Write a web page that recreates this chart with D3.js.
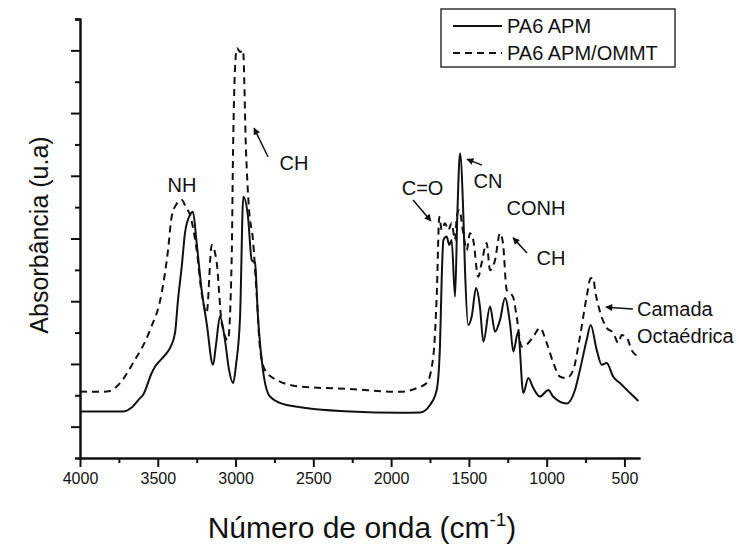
<!DOCTYPE html>
<html>
<head>
<meta charset="utf-8">
<script src="https://cdn.jsdelivr.net/npm/d3@7"></script>
<style>
  html, body { margin: 0; padding: 0; background: #fff; }
  svg { display: block; }
  text { font-family: "Liberation Sans", Arial, sans-serif; fill: #111; }
</style>
</head>
<body>
<svg id="chart" width="739" height="550"></svg>
<script>
// ---- Data (wavenumber cm-1, absorbance a.u.) ----
const seriesNames = ["PA6 APM", "PA6 APM/OMMT"];

const apmWn = [4000,3871,3724,3670,3614,3595,3539,3518,3499,3454,3421,3389,3370,3346,3325,3293,3274,3250,3218,3186,3145,3126,3100,3068,3042,3016,2997,2971,2950,2920,2896,2875,2856,2824,2779,2671,2264,1943,1814,1750,1707,1686,1675,1664,1643,1626,1611,1589,1574,1557,1536,1525,1504,1482,1454,1429,1407,1364,1332,1300,1268,1236,1214,1184,1150,1118,1086,1043,989,959,871,818,786,743,717,678,646,614,572,529,464,411];
const apmAbs = [0.148,0.148,0.148,0.160,0.191,0.201,0.271,0.291,0.303,0.328,0.351,0.399,0.504,0.610,0.718,0.775,0.785,0.686,0.536,0.431,0.297,0.360,0.451,0.376,0.281,0.239,0.297,0.451,0.833,0.770,0.631,0.622,0.451,0.281,0.196,0.169,0.148,0.144,0.145,0.169,0.217,0.355,0.568,0.695,0.706,0.679,0.695,0.514,0.781,0.972,0.781,0.600,0.424,0.451,0.542,0.483,0.371,0.483,0.403,0.440,0.510,0.431,0.339,0.403,0.207,0.255,0.223,0.196,0.217,0.196,0.174,0.217,0.281,0.376,0.424,0.344,0.297,0.303,0.259,0.239,0.207,0.182];

const ommtWn = [4000,3871,3807,3743,3659,3550,3475,3434,3411,3383,3346,3319,3293,3250,3218,3186,3153,3121,3089,3049,3025,3016,3004,2991,2971,2952,2933,2914,2888,2864,2843,2811,2736,2586,2264,1943,1835,1771,1729,1707,1690,1675,1654,1632,1611,1589,1578,1562,1536,1514,1493,1472,1440,1418,1386,1364,1332,1300,1281,1257,1216,1193,1161,1118,1086,1043,1000,957,914,871,829,786,743,717,700,689,657,614,572,539,518,486,454,404];
const ommtAbs = [0.212,0.211,0.214,0.239,0.303,0.408,0.526,0.663,0.769,0.807,0.823,0.800,0.775,0.663,0.526,0.462,0.679,0.622,0.431,0.376,0.631,0.982,1.237,1.307,1.295,1.301,0.982,0.797,0.695,0.520,0.351,0.281,0.249,0.228,0.220,0.211,0.223,0.239,0.323,0.514,0.769,0.727,0.749,0.727,0.749,0.695,0.769,0.791,0.717,0.663,0.717,0.695,0.578,0.622,0.686,0.599,0.631,0.717,0.686,0.536,0.514,0.451,0.355,0.367,0.387,0.415,0.367,0.303,0.259,0.255,0.281,0.387,0.514,0.573,0.574,0.536,0.466,0.415,0.399,0.367,0.392,0.386,0.344,0.323];

const xTicks = [4000,3500,3000,2500,2000,1500,1000,500];
const xMinorTicks = [3750,3250,2750,2250,1750,1250,750];
const yMajorTicks = [0.1,0.3,0.5,0.7,0.9,1.1,1.3];
const yMinorTicks = [0.2,0.4,0.6,0.8,1.0,1.2,1.4];

// annotations: label, text anchor point (wn, abs)
const labelText = ["NH","CH","C=O","CN","CONH","CH","Camada","Octaédrica"];
const labelWn   = [3344, 2624, 1798, 1377, 1069, 972, 419, 419];
const labelAbs  = [0.848, 0.918, 0.839, 0.861, 0.775, 0.615, 0.453, 0.367];
const labelAnchor = ["middle","middle","middle","middle","middle","middle","start","start"];

// arrows: from (wn, abs) to (wn, abs) (head at "to")
const arrowFromWn  = [2791, 1859, 1416, 1126, 445];
const arrowFromAbs = [0.960, 0.823, 0.934, 0.654, 0.475];
const arrowToWn    = [2881, 1744, 1512, 1216, 619];
const arrowToAbs   = [1.052, 0.756, 0.953, 0.702, 0.481];

// ---- Drawing ----
const svg = d3.select("#chart");
const W = 739, H = 550;
const m = {left: 80, right: 99, top: 19, bottom: 92};

const x = d3.scaleLinear().domain([4000, 400]).range([m.left, W - m.right]);
const y = d3.scaleLinear().domain([0, 1.4]).range([H - m.bottom, m.top]);

const apm = apmWn.map((w, i) => ({w, a: apmAbs[i]}));
const ommt = ommtWn.map((w, i) => ({w, a: ommtAbs[i]}));

const line = d3.line().x(d => x(d.w)).y(d => y(d.a)).curve(d3.curveMonotoneX);

svg.append("path").datum(ommt).attr("d", line)
  .attr("fill", "none").attr("stroke", "#111").attr("stroke-width", 2)
  .attr("stroke-dasharray", "7,5");
svg.append("path").datum(apm).attr("d", line)
  .attr("fill", "none").attr("stroke", "#111").attr("stroke-width", 2);

// axes
const x0 = y(0);
const xAxis = svg.append("g").attr("transform", `translate(0,${x0})`)
  .call(d3.axisBottom(x).tickValues(xTicks).tickSize(9).tickSizeOuter(0).tickPadding(6).tickFormat(d3.format("d")));
svg.append("g").attr("transform", `translate(0,${x0})`)
  .call(d3.axisBottom(x).tickValues(xMinorTicks).tickSize(5).tickSizeOuter(0).tickFormat(""));
svg.append("g").attr("transform", `translate(${m.left},0)`)
  .call(d3.axisLeft(y).tickValues(yMajorTicks).tickSize(9).tickSizeOuter(5).tickFormat(""));
svg.append("g").attr("transform", `translate(${m.left},0)`)
  .call(d3.axisLeft(y).tickValues(yMinorTicks).tickSize(5).tickSizeOuter(5).tickFormat(""));

svg.selectAll(".domain").attr("stroke", "#111").attr("stroke-width", 2);
svg.selectAll(".tick line").attr("stroke", "#111").attr("stroke-width", 2);
xAxis.selectAll(".tick text")
  .style("font-family", "'Liberation Sans', Arial, sans-serif")
  .style("font-size", "16px").attr("fill", "#111");

// axis titles
const xt = svg.append("text").attr("x", 362).attr("y", 538)
  .attr("text-anchor", "middle").style("font-size", "30px");
xt.append("tspan").text("Número de onda (cm");
xt.append("tspan").text("-1").style("font-size", "19px").attr("dy", -12);
xt.append("tspan").text(")").attr("dy", 12);

svg.append("text")
  .attr("transform", `translate(48,235) rotate(-90)`)
  .attr("text-anchor", "middle").style("font-size", "25px")
  .text("Absorbância (u.a)");

// annotations
labelText.forEach((t, i) => {
  svg.append("text").attr("x", x(labelWn[i])).attr("y", y(labelAbs[i]))
    .attr("text-anchor", labelAnchor[i]).style("font-size", "20px").text(t);
});

svg.append("defs").append("marker")
  .attr("id", "ah").attr("viewBox", "0 0 10 10").attr("refX", 9).attr("refY", 5)
  .attr("markerWidth", 9).attr("markerHeight", 7).attr("markerUnits", "userSpaceOnUse")
  .attr("orient", "auto")
  .append("path").attr("d", "M0,0 L10,5 L0,10 Z").attr("fill", "#111");

arrowFromWn.forEach((w, i) => {
  svg.append("line")
    .attr("x1", x(w)).attr("y1", y(arrowFromAbs[i]))
    .attr("x2", x(arrowToWn[i])).attr("y2", y(arrowToAbs[i]))
    .attr("stroke", "#111").attr("stroke-width", 1.5)
    .attr("marker-end", "url(#ah)");
});

// legend
const lg = svg.append("g");
lg.append("rect").attr("x", 441).attr("y", 9).attr("width", 234).attr("height", 58)
  .attr("fill", "#fff").attr("stroke", "#333").attr("stroke-width", 1.5);
seriesNames.forEach((n, i) => {
  const yy = 26 + i * 27;
  lg.append("line").attr("x1", 453).attr("x2", 502).attr("y1", yy).attr("y2", yy)
    .attr("stroke", "#111").attr("stroke-width", 2)
    .attr("stroke-dasharray", i === 1 ? "7,5" : null);
  lg.append("text").attr("x", 507).attr("y", yy + 7).style("font-size", "20px").text(n);
});
</script>
</body>
</html>
